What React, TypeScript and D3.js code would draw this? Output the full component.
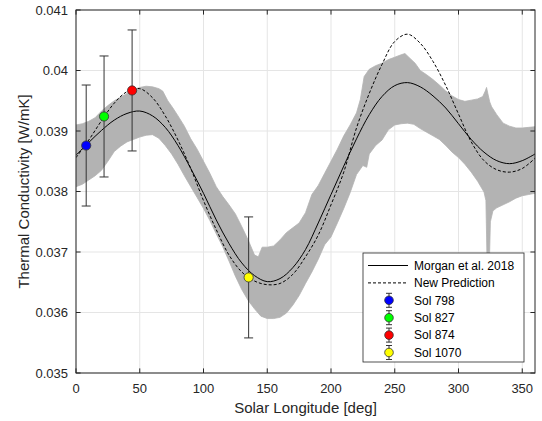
import React from "react";
import * as d3 from "d3";

const width = 542;
const height = 421;
const margin = { top: 10, right: 7, bottom: 48, left: 76 };

// model curves, every 10 deg of Ls
const curveLs = d3.range(0, 361, 10);
const morgan2018 = [
  0.0386, 0.03881, 0.03901, 0.03918, 0.03929, 0.03933, 0.03925, 0.03906, 0.03876, 0.03838,
  0.03797, 0.03753, 0.03714, 0.03682, 0.03661, 0.03651, 0.03656, 0.03674, 0.03704, 0.03748,
  0.03795, 0.03842, 0.03887, 0.03927, 0.03957, 0.03975, 0.0398, 0.03973, 0.03958, 0.03938,
  0.03912, 0.03886, 0.03865, 0.03851, 0.03846, 0.03851, 0.03862,
];
const newPrediction = [
  0.03856, 0.03885, 0.03917, 0.03946, 0.03965, 0.0397, 0.03955, 0.03925, 0.03885, 0.03838,
  0.03785, 0.03737, 0.03695, 0.03667, 0.03652, 0.03646, 0.03648, 0.03663, 0.03692, 0.03728,
  0.03778, 0.03832, 0.03905, 0.03962, 0.0401, 0.04048, 0.0406, 0.04045, 0.04015, 0.03975,
  0.03928, 0.03882, 0.03851, 0.03836, 0.03832, 0.03838, 0.03855,
];

// gray envelope of the measurements
const upperLs = [
  0, 5, 10, 15, 20, 25, 30, 35, 40, 45, 50, 55, 60, 65, 68, 72, 76, 80, 85, 90, 95, 100, 105,
  110, 115, 120, 125, 130, 135, 140, 143, 146, 150, 155, 160, 165, 170, 175, 180, 185, 190,
  195, 200, 205, 210, 215, 220, 223, 226, 230, 235, 240, 245, 250, 255, 258, 262, 266, 270,
  275, 280, 285, 290, 295, 300, 305, 310, 315, 319, 321, 322, 323, 324.5, 326, 330, 335, 340,
  345, 350, 355, 360,
];
const upperVals = [
  0.0391, 0.03912, 0.03916, 0.03922, 0.03933, 0.03942, 0.0395, 0.03956, 0.03962, 0.03968,
  0.03972, 0.03974, 0.03973, 0.0397, 0.03966, 0.0395, 0.03938, 0.03925, 0.03908, 0.03887,
  0.0387, 0.0385, 0.0383, 0.03808, 0.03792, 0.03778, 0.03763, 0.03742, 0.0372, 0.03695,
  0.03692, 0.03708, 0.03708, 0.0371, 0.0372, 0.03732, 0.0374, 0.03748, 0.03765, 0.03795,
  0.0381, 0.0383, 0.0385, 0.0387, 0.03892, 0.0391, 0.0393, 0.03952, 0.0399, 0.04002,
  0.04008, 0.04012, 0.04018, 0.04022, 0.04026, 0.04028, 0.0402, 0.04012, 0.04, 0.03993,
  0.03985, 0.03976, 0.03966, 0.03958, 0.03952, 0.03949, 0.03951, 0.03953, 0.03957, 0.03966,
  0.03972, 0.03962, 0.03948, 0.0394, 0.03927, 0.03913, 0.03908, 0.03905, 0.03905, 0.03906,
  0.03907,
];
const lowerLs = [
  0, 5, 10, 15, 20, 25, 30, 35, 40, 45, 50, 55, 60, 65, 70, 75, 80, 85, 90, 95, 100, 105, 110,
  115, 120, 125, 130, 135, 140, 145, 150, 155, 160, 165, 170, 175, 180, 185, 190, 195, 200,
  205, 210, 215, 220, 225, 228, 230, 235, 240, 245, 250, 255, 260, 265, 270, 275, 280, 285,
  290, 295, 300, 305, 310, 315, 320, 321.5, 322.8, 323.8, 325, 327, 330, 335, 340, 345, 350,
  355, 360,
];
const lowerVals = [
  0.03808, 0.03812, 0.03819, 0.03826, 0.03835, 0.0385, 0.03866, 0.03875, 0.03882, 0.03886,
  0.0389, 0.03893, 0.03894, 0.03888, 0.03876, 0.03862, 0.03845, 0.03826, 0.03808, 0.0379,
  0.03772, 0.03752, 0.0373, 0.03709, 0.03685, 0.0366, 0.03638, 0.0362, 0.03606, 0.03594,
  0.0359, 0.0359, 0.03592, 0.03599, 0.03612, 0.03628, 0.03648, 0.03667, 0.03688, 0.03712,
  0.03725, 0.03748, 0.03772, 0.03798, 0.03828, 0.03843, 0.0384, 0.03862, 0.03876, 0.03885,
  0.03902, 0.0391, 0.03912, 0.03913, 0.03911, 0.03904, 0.03898, 0.03892, 0.03886, 0.03876,
  0.03865, 0.03856, 0.03845, 0.03832, 0.03817, 0.03799, 0.03785, 0.03637, 0.03645, 0.0375,
  0.03768, 0.03773, 0.03778, 0.03783, 0.03789, 0.03793, 0.03795, 0.03797,
];

// measurements with error bars
const solLabels = ["Sol 798", "Sol 827", "Sol 874", "Sol 1070"];
const solLs = [8, 22, 44, 135.4];
const solK = [0.03876, 0.03924, 0.03967, 0.03658];
const solErr = [0.001, 0.001, 0.001, 0.001];
const solColors = ["#0000ff", "#00ff00", "#ff0000", "#ffff00"];

const xTicks = [0, 50, 100, 150, 200, 250, 300, 350];
const yTicks = [0.035, 0.036, 0.037, 0.038, 0.039, 0.04, 0.041];

const axisColor = "#262626";
const font = "'Liberation Sans', Arial, Helvetica, sans-serif";

const App = () => {
  const x = d3.scaleLinear().domain([0, 360]).range([margin.left, width - margin.right]);
  const y = d3.scaleLinear().domain([0.035, 0.041]).range([height - margin.bottom, margin.top]);
  const [x0, x1] = x.range();
  const [yb, yt] = y.range();

  const bandPts = [
    ...upperLs.map((d, i) => [x(d), y(upperVals[i])]),
    ...lowerLs.map((d, i) => [x(d), y(lowerVals[i])]).reverse(),
  ];
  const band = d3.line()(bandPts as [number, number][]) + "Z";

  const curve = d3
    .line<number>()
    .x((d, i) => x(curveLs[i]))
    .y((d) => y(d))
    .curve(d3.curveCatmullRom);

  const tickLen = 4.6;
  const legX = 363;
  const legY = 253;
  const rowH = 17.4;

  return (
    <div style={{ position: "absolute", left: 0, top: 0 }}>
      <svg width={width} height={height} style={{ display: "block", background: "#fff" }}>
        <defs>
          <clipPath id="plot">
            <rect x={x0} y={yt} width={x1 - x0} height={yb - yt} />
          </clipPath>
        </defs>
        <rect x={0} y={0} width={width} height={height} fill="#fff" />
        {/* grid */}
        <g stroke="#e5e5e5" strokeWidth={1}>
          {xTicks.map((t) => (
            <line key={"gx" + t} x1={x(t)} x2={x(t)} y1={yt} y2={yb} />
          ))}
          {yTicks.map((t) => (
            <line key={"gy" + t} x1={x0} x2={x1} y1={y(t)} y2={y(t)} />
          ))}
        </g>

        <g clipPath="url(#plot)">
          <path d={band} fill="#b3b3b3" stroke="#b3b3b3" strokeWidth={0.8} strokeLinejoin="miter" />
          <path d={curve(morgan2018) || ""} fill="none" stroke="#000" strokeWidth={1} />
          <path
            d={curve(newPrediction) || ""}
            fill="none"
            stroke="#000"
            strokeWidth={1}
            strokeDasharray="3,2"
          />
        </g>

        {/* error bars + markers */}
        {solLs.map((ls, i) => {
          const cx = x(ls);
          const top = y(solK[i] + solErr[i]);
          const bot = y(solK[i] - solErr[i]);
          return (
            <g key={solLabels[i]}>
              <g stroke="#333" strokeWidth={1}>
                <line x1={cx} x2={cx} y1={top} y2={bot} />
                <line x1={cx - 4.5} x2={cx + 4.5} y1={top} y2={top} />
                <line x1={cx - 4.5} x2={cx + 4.5} y1={bot} y2={bot} />
              </g>
              <circle cx={cx} cy={y(solK[i])} r={4.6} fill={solColors[i]} stroke="#333" strokeWidth={0.8} />
            </g>
          );
        })}

        {/* axes box and ticks */}
        <rect x={x0} y={yt} width={x1 - x0} height={yb - yt} fill="none" stroke={axisColor} strokeWidth={1} />
        <g stroke={axisColor} strokeWidth={1}>
          {xTicks.map((t) => (
            <g key={"tx" + t}>
              <line x1={x(t)} x2={x(t)} y1={yb} y2={yb - tickLen} />
              <line x1={x(t)} x2={x(t)} y1={yt} y2={yt + tickLen} />
            </g>
          ))}
          {yTicks.map((t) => (
            <g key={"ty" + t}>
              <line x1={x0} x2={x0 + tickLen} y1={y(t)} y2={y(t)} />
              <line x1={x1} x2={x1 - tickLen} y1={y(t)} y2={y(t)} />
            </g>
          ))}
        </g>
        <g fontFamily={font} fontSize={13} fill={axisColor}>
          {xTicks.map((t) => (
            <text key={"lx" + t} x={x(t)} y={yb + 20} textAnchor="middle">
              {t}
            </text>
          ))}
          {yTicks.map((t) => (
            <text key={"ly" + t} x={x0 - 8} y={y(t) + 4.6} textAnchor="end">
              {String(+t.toFixed(3))}
            </text>
          ))}
        </g>
        <text
          x={(x0 + x1) / 2}
          y={413}
          textAnchor="middle"
          fontFamily={font}
          fontSize={15}
          fill={axisColor}
        >
          Solar Longitude [deg]
        </text>
        <text
          transform={`translate(29, ${(yt + yb) / 2}) rotate(-90)`}
          textAnchor="middle"
          fontFamily={font}
          fontSize={15}
          fill={axisColor}
        >
          Thermal Conductivity [W/mK]
        </text>

        {/* legend */}
        <g fontFamily={font} fontSize={12} fill="#000">
          <rect x={legX} y={legY} width={161} height={109} fill="#fff" stroke={axisColor} strokeWidth={0.8} />
          <line x1={legX + 5} x2={legX + 45} y1={legY + 12.5} y2={legY + 12.5} stroke="#000" strokeWidth={1} />
          <text x={legX + 51} y={legY + 12.5 + 4.2}>Morgan et al. 2018</text>
          <line
            x1={legX + 5}
            x2={legX + 45}
            y1={legY + 12.5 + rowH}
            y2={legY + 12.5 + rowH}
            stroke="#000"
            strokeWidth={1}
            strokeDasharray="3,2"
          />
          <text x={legX + 51} y={legY + 12.5 + rowH + 4.2}>New Prediction</text>
          {solLabels.map((s, i) => {
            const cy = legY + 12.5 + rowH * (i + 2);
            const cx = legX + 26;
            return (
              <g key={"leg" + s}>
                <g stroke="#333" strokeWidth={1}>
                  <line x1={cx} x2={cx} y1={cy - 7} y2={cy + 7} />
                  <line x1={cx - 3} x2={cx + 3} y1={cy - 7} y2={cy - 7} />
                  <line x1={cx - 3} x2={cx + 3} y1={cy + 7} y2={cy + 7} />
                </g>
                <circle cx={cx} cy={cy} r={4.3} fill={solColors[i]} stroke="#333" strokeWidth={0.8} />
                <text x={legX + 51} y={cy + 4.2}>
                  {s}
                </text>
              </g>
            );
          })}
        </g>
      </svg>
    </div>
  );
};

export default App;
